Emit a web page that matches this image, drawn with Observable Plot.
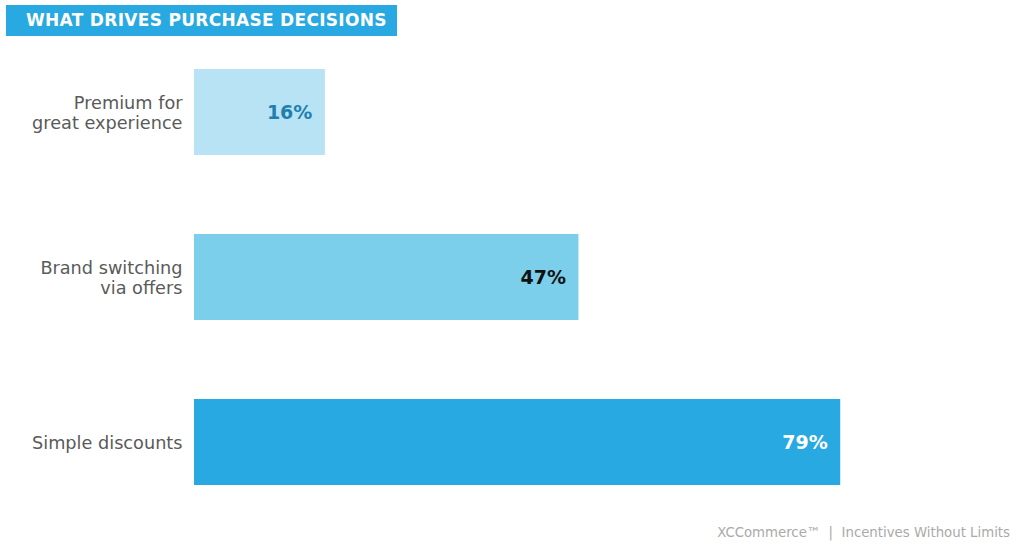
<!DOCTYPE html>
<html>
<head>
<meta charset="utf-8">
<script src="https://cdn.jsdelivr.net/npm/d3@7"></script>
<script src="https://cdn.jsdelivr.net/npm/@observablehq/plot@0.6"></script>
<style>
  html, body { margin: 0; padding: 0; background: #fff; }
  body { width: 1024px; height: 554px; position: relative; overflow: hidden; font-family: "DejaVu Sans", sans-serif; }
  #title { position: absolute; left: 6px; top: 5px; width: 391px; height: 31px; background: #29a9e1; color: #fff;
           font-weight: bold; font-size: 17px; line-height: 31px; box-sizing: border-box; padding-left: 20px; letter-spacing: 0.3px; white-space: nowrap; }
  #footer { position: absolute; right: 14px; top: 525px; color: #aaaaaa; font-size: 13.3px; white-space: pre; }
  #chart { position: absolute; left: 0; top: 0; }
</style>
</head>
<body>
<div id="chart"></div>
<div id="title">WHAT DRIVES PURCHASE DECISIONS</div>
<div id="footer">XCCommerce™  |  Incentives Without Limits</div>
<script>
const categories = ["Premium for\ngreat experience", "Brand switching\nvia offers", "Simple discounts"];
const values = [16, 47, 79];
const barColors = ["#b8e3f5", "#7bcfea", "#29a9e1"];
const labelColors = ["#1f7fae", "#111111", "#ffffff"];

const data = categories.map((c, i) => ({category: c, value: values[i], fill: barColors[i], labelFill: labelColors[i]}));

const chart = Plot.plot({
  width: 1024,
  height: 554,
  marginLeft: 194,
  marginRight: 12,
  marginTop: 36,
  marginBottom: 36,
  style: {fontFamily: "DejaVu Sans, sans-serif", background: "transparent"},
  x: {domain: [0, 100], axis: null},
  y: {domain: categories, paddingInner: 0.479, paddingOuter: 0.2, label: null},
  marks: [
    Plot.barX(data, {x: "value", y: "category", fill: "fill"}),
    Plot.text(data, {x: "value", y: "category", text: d => d.value + "%", fill: "labelFill",
      textAnchor: "end", dx: -13, fontSize: 19, fontWeight: "bold"}),
    Plot.axisY({tickSize: 0, tickPadding: 12, fontSize: 17.7, fill: "#5a5a5a", lineHeight: 1.12, label: null})
  ]
});
document.getElementById("chart").appendChild(chart);
</script>
</body>
</html>
